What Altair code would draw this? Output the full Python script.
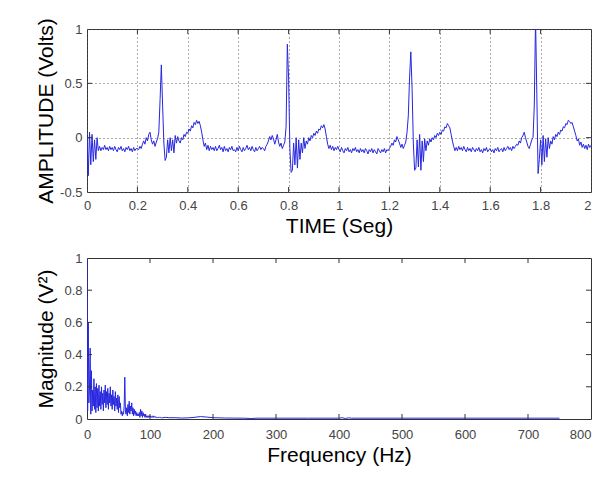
import altair as alt
import pandas as pd

# ---------------- data ----------------
ecg_dt = 0.005  # sampling step of the listed ECG values (s)
ecg_values = [
    0.02, -0.35, 0.05, -0.25, 0.03, -0.22, -0.02, -0.20, 0.00, -0.12, -0.08, -0.12, -0.09, -0.11, -0.07, -0.11, -0.09, -0.12, -0.08, -0.11,
    -0.09, -0.12, -0.08, -0.11, -0.13, -0.09, -0.11, -0.08, -0.12, -0.10, -0.13, -0.09, -0.11, -0.08, -0.12, -0.10, -0.13, -0.09, -0.12, -0.10,
    -0.10, -0.11, -0.08, -0.10, -0.06, -0.03, -0.06, 0.00, -0.03, 0.03, 0.05, -0.02, -0.06, -0.03, -0.08, -0.04, -0.01, 0.05, 0.35, 0.67,
    0.30, -0.05, -0.21, -0.18, -0.02, -0.14, 0.00, -0.12, -0.02, -0.14, 0.02, -0.05, 0.01, -0.03, -0.05, 0.00, -0.02, 0.03, 0.01, 0.05,
    0.04, 0.08, 0.06, 0.11, 0.09, 0.14, 0.12, 0.16, 0.13, 0.15, 0.11, 0.05, -0.02, -0.08, -0.05, -0.11, -0.07, -0.12, -0.08, -0.11,
    -0.09, -0.12, -0.08, -0.12, -0.10, -0.07, -0.11, -0.09, -0.13, -0.08, -0.12, -0.10, -0.13, -0.09, -0.11, -0.08, -0.12, -0.11, -0.13, -0.09,
    -0.12, -0.08, -0.11, -0.13, -0.09, -0.12, -0.10, -0.07, -0.11, -0.09, -0.12, -0.08, -0.11, -0.13, -0.09, -0.12, -0.10, -0.08, -0.11, -0.09,
    -0.10, -0.12, -0.08, -0.06, -0.03, 0.01, -0.02, 0.02, -0.01, -0.06, -0.02, 0.03, -0.04, -0.08, -0.05, -0.10, -0.07, -0.04, 0.10, 0.86,
    0.55, -0.10, -0.32, -0.30, -0.05, -0.25, 0.00, -0.28, -0.02, -0.20, -0.05, -0.14, 0.00, -0.10, -0.03, -0.06, 0.00, -0.03, 0.02, 0.00,
    0.04, 0.02, 0.06, 0.04, 0.08, 0.07, 0.11, 0.09, 0.12, 0.08, 0.01, -0.06, -0.10, -0.07, -0.11, -0.08, -0.12, -0.09, -0.11, -0.08,
    -0.11, -0.13, -0.09, -0.12, -0.14, -0.10, -0.12, -0.09, -0.13, -0.11, -0.14, -0.10, -0.12, -0.09, -0.13, -0.11, -0.14, -0.10, -0.13, -0.11,
    -0.14, -0.10, -0.12, -0.15, -0.11, -0.13, -0.10, -0.14, -0.11, -0.13, -0.15, -0.10, -0.12, -0.14, -0.11, -0.13, -0.10, -0.14, -0.11, -0.12,
    -0.10, -0.08, -0.05, -0.07, -0.02, -0.04, 0.01, -0.02, -0.05, -0.09, -0.06, -0.10, -0.07, -0.04, 0.05, 0.20, 0.55, 0.79, 0.45, -0.05,
    -0.30, -0.28, -0.02, -0.27, 0.03, -0.30, -0.03, -0.22, -0.01, -0.12, -0.03, -0.07, -0.01, -0.04, 0.00, -0.02, 0.02, 0.00, 0.04, 0.02,
    0.05, 0.03, 0.07, 0.06, 0.10, 0.09, 0.13, 0.11, 0.09, 0.03, -0.03, -0.08, -0.12, -0.09, -0.12, -0.08, -0.11, -0.09, -0.12, -0.08,
    -0.11, -0.13, -0.09, -0.12, -0.10, -0.13, -0.09, -0.11, -0.13, -0.10, -0.12, -0.09, -0.13, -0.11, -0.14, -0.10, -0.12, -0.09, -0.13, -0.11,
    -0.10, -0.13, -0.11, -0.14, -0.10, -0.12, -0.09, -0.13, -0.11, -0.10, -0.13, -0.09, -0.12, -0.10, -0.08, -0.11, -0.09, -0.12, -0.08, -0.10,
    -0.08, -0.06, -0.07, -0.03, -0.05, 0.00, 0.02, 0.05, 0.00, -0.04, -0.08, -0.10, -0.06, -0.02, 0.00, 0.30, 1.10, 0.40, -0.33, -0.20,
    -0.02, -0.25, 0.02, -0.22, -0.01, -0.18, 0.00, -0.10, -0.03, -0.06, 0.01, -0.02, 0.03, 0.01, 0.05, 0.03, 0.07, 0.06, 0.10, 0.09,
    0.13, 0.12, 0.16, 0.15, 0.13, 0.14, 0.10, 0.06, 0.02, -0.03, -0.01, -0.07, -0.04, -0.09, -0.06, -0.10, -0.07, -0.11, -0.06, -0.09,
    -0.07,
]

# spectrum: 1 Hz resolution from 0 to 120 Hz, then sparse tail
spec_freq_low = list(range(0, 121))
spec_mag_low = [
    1.00, 0.05, 0.60, 0.10, 0.20, 0.44, 0.03, 0.30, 0.05, 0.18,
    0.08, 0.25, 0.06, 0.20, 0.04, 0.22, 0.07, 0.19, 0.05, 0.21,
    0.08, 0.17, 0.06, 0.20, 0.09, 0.16, 0.05, 0.18, 0.10, 0.21,
    0.07, 0.17, 0.09, 0.19, 0.06, 0.16, 0.10, 0.20, 0.08, 0.15,
    0.06, 0.18, 0.09, 0.14, 0.05, 0.17, 0.08, 0.13, 0.06, 0.15,
    0.04, 0.14, 0.07, 0.10, 0.03, 0.05, 0.02, 0.04, 0.03, 0.08,
    0.26, 0.05, 0.03, 0.07, 0.02, 0.09, 0.04, 0.11, 0.03, 0.08,
    0.05, 0.10, 0.03, 0.07, 0.02, 0.06, 0.03, 0.05, 0.02, 0.04,
    0.02, 0.03, 0.02, 0.04, 0.01, 0.06, 0.02, 0.05, 0.01, 0.04,
    0.02, 0.03, 0.01, 0.03, 0.01, 0.02, 0.01, 0.02, 0.01, 0.02,
    0.01, 0.02, 0.01, 0.015, 0.01, 0.02, 0.01, 0.015, 0.01, 0.015,
    0.008, 0.012, 0.008, 0.01, 0.007, 0.011, 0.008, 0.01, 0.007, 0.009, 0.008,
]
spec_freq_tail = [125, 130, 140, 150, 160, 170, 180, 190, 200, 220, 250, 260, 270,
                  300, 350, 400, 405, 410, 415, 420, 500, 600, 700, 750]
spec_mag_tail = [0.01, 0.008, 0.008, 0.006, 0.007, 0.01, 0.015, 0.012, 0.008, 0.006, 0.005, 0.003, 0.005,
                 0.005, 0.005, 0.005, 0.008, 0.003, 0.007, 0.005, 0.005, 0.005, 0.005, 0.005]

top_xticks = [0, 0.2, 0.4, 0.6, 0.8, 1, 1.2, 1.4, 1.6, 1.8, 2]
top_yticks = [-0.5, 0, 0.5, 1]
bot_xticks = [0, 100, 200, 300, 400, 500, 600, 700, 800]
bot_yticks = [0, 0.2, 0.4, 0.6, 0.8, 1]

# ---------------- style ----------------
BLUE = "#2626e0"
FRAME = "#333333"
FONT = "Liberation Sans"

ecg_df = pd.DataFrame({"t": [round(i * ecg_dt, 3) for i in range(len(ecg_values))], "v": ecg_values})
spec_df = pd.DataFrame({"f": spec_freq_low + spec_freq_tail, "m": spec_mag_low + spec_mag_tail})


def tick_table(xticks, yticks, xdom, ydom, dx, dy):
    rows = []
    for t in xticks[1:-1]:
        rows.append({"x": t, "x2": t, "y": ydom[0], "y2": ydom[0] + dy})
        rows.append({"x": t, "x2": t, "y": ydom[1], "y2": ydom[1] - dy})
    for v in yticks[1:-1]:
        rows.append({"x": xdom[0], "x2": xdom[0] + dx, "y": v, "y2": v})
        rows.append({"x": xdom[1], "x2": xdom[1] - dx, "y": v, "y2": v})
    return pd.DataFrame(rows)


common_axis = dict(labelExpr="'' + datum.value", labelOverlap=False, labelBound=False, labelFlush=False)


def last_right(v):
    # keep the last x label inside the page width (right-aligned at the frame)
    return {"condition": {"test": f"datum.value == {v}", "value": "right"}, "value": "center"}


# ---------------- top panel ----------------
tx = alt.Scale(domain=[0, 2], nice=False, zero=False)
ty = alt.Scale(domain=[-0.5, 1], nice=False, zero=False)
tx_axis = alt.Axis(values=top_xticks, title="TIME (Seg)", grid=True, gridDash=[1, 3], gridColor="#555555",
                   labelAlign=last_right(2),
                   labelPadding=7, minExtent=19, maxExtent=19, titlePadding=4, **common_axis)
ty_axis = alt.Axis(values=top_yticks, title="AMPLITUDE (Volts)", grid=True, gridDash=[1, 3], gridColor="#555555",
                   labelPadding=5, minExtent=26, maxExtent=26, titlePadding=5, **common_axis)

top_line = alt.Chart(ecg_df).mark_line(color=BLUE, strokeWidth=1, clip=True).encode(
    x=alt.X("t:Q", scale=tx, axis=tx_axis, title="TIME (Seg)"),
    y=alt.Y("v:Q", scale=ty, axis=ty_axis, title="AMPLITUDE (Volts)"),
)
top_ticks = alt.Chart(tick_table(top_xticks, top_yticks, [0, 2], [-0.5, 1], 0.02, 0.046)).mark_rule(
    color=FRAME, strokeWidth=1).encode(
    x=alt.X("x:Q", scale=tx, axis=tx_axis, title="TIME (Seg)"), x2="x2:Q",
    y=alt.Y("y:Q", scale=ty, axis=ty_axis, title="AMPLITUDE (Volts)"), y2="y2:Q")
top = alt.layer(top_line, top_ticks).properties(width=504, height=163)

# ---------------- bottom panel ----------------
bx = alt.Scale(domain=[0, 800], nice=False, zero=False)
by = alt.Scale(domain=[0, 1], nice=False, zero=False)
bx_axis = alt.Axis(values=bot_xticks, title="Frequency (Hz)", grid=False,
                   labelAlign=last_right(800),
                   labelPadding=9, minExtent=20, maxExtent=20, titlePadding=5, **common_axis)
by_axis = alt.Axis(values=bot_yticks, title="Magnitude (V²)", grid=False,
                   labelPadding=5, minExtent=26, maxExtent=26, titlePadding=5, **common_axis)

bot_line = alt.Chart(spec_df).mark_line(color=BLUE, strokeWidth=1, clip=True).encode(
    x=alt.X("f:Q", scale=bx, axis=bx_axis, title="Frequency (Hz)"),
    y=alt.Y("m:Q", scale=by, axis=by_axis, title="Magnitude (V²)"),
)
bot_ticks = alt.Chart(tick_table(bot_xticks, bot_yticks, [0, 800], [0, 1], 8, 0.031)).mark_rule(
    color=FRAME, strokeWidth=1).encode(
    x=alt.X("x:Q", scale=bx, axis=bx_axis, title="Frequency (Hz)"), x2="x2:Q",
    y=alt.Y("y:Q", scale=by, axis=by_axis, title="Magnitude (V²)"), y2="y2:Q")
bottom = alt.layer(bot_line, bot_ticks).properties(width=504, height=161)

chart = alt.vconcat(top, bottom, spacing=66, bounds="flush").properties(
    padding={"left": 26, "top": 9, "right": 0, "bottom": 0}
).configure_axis(
    labelFont=FONT, titleFont=FONT, labelFontSize=13, titleFontSize=21,
    titleFontWeight="normal", labelColor="#444444", titleColor="#000000",
    ticks=False, domain=False, labelOverlap=False,
).configure_view(stroke=FRAME, strokeWidth=1)

chart.save("out.html", embed_options={"renderer": "svg", "actions": False})
